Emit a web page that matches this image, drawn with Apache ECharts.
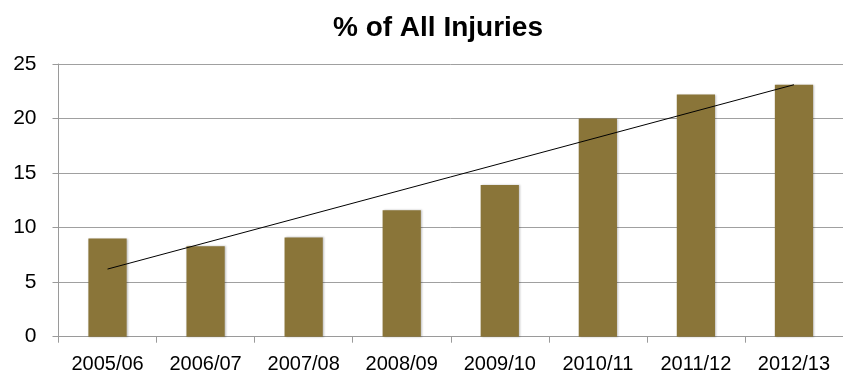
<!DOCTYPE html>
<html>
<head>
<meta charset="utf-8">
<script src="https://cdn.jsdelivr.net/npm/echarts@6/dist/echarts.min.js"></script>
<style>
  html, body { margin: 0; padding: 0; background: #fff; }
  #chart { width: 843px; height: 378px; }
</style>
</head>
<body>
<div id="chart"></div>
<script>
// Seasons on the category axis
const seasons = ['2005/06', '2006/07', '2007/08', '2008/09', '2009/10', '2010/11', '2011/12', '2012/13'];
// Share of all injuries, per season (%)
const injuryShare = [9.0, 8.3, 9.1, 11.6, 13.9, 20.0, 22.2, 23.1];
// Linear trend: value at first and last season
const trendStart = 6.2;
const trendEnd = 23.1;
// Value axis ticks
const yTicks = [0, 5, 10, 15, 20, 25];

const trendData = seasons.map((_, i) =>
  i === 0 ? trendStart : (i === seasons.length - 1 ? trendEnd : null));

const chart = echarts.init(document.getElementById('chart'), null, { renderer: 'canvas' });
chart.setOption({
  animation: false,
  backgroundColor: '#ffffff',
  title: {
    text: '% of All Injuries',
    left: 433,
    top: 9,
    textAlign: 'center',
    textStyle: {
      fontFamily: 'Liberation Sans, Arial, sans-serif',
      fontWeight: 'bold',
      fontSize: 28,
      color: '#000'
    }
  },
  grid: { left: 58.5, right: -6.5, top: 64, bottom: 41.3 },
  xAxis: {
    type: 'category',
    data: seasons,
    boundaryGap: true,
    axisLine: { show: true, lineStyle: { color: '#9a9a9a', width: 1 } },
    axisTick: { show: true, length: 6, alignWithLabel: false, lineStyle: { color: '#9a9a9a' } },
    axisLabel: {
      margin: 18,
      fontFamily: 'Liberation Sans, Arial, sans-serif',
      fontSize: 20,
      color: '#000',
      interval: 0
    },
    splitLine: { show: false }
  },
  yAxis: {
    type: 'value',
    min: yTicks[0],
    max: yTicks[yTicks.length - 1],
    interval: 5,
    axisLine: { show: true, lineStyle: { color: '#9a9a9a', width: 1 } },
    axisTick: { show: true, length: 6, lineStyle: { color: '#9a9a9a' } },
    axisLabel: {
      margin: 22,
      fontFamily: 'Liberation Sans, Arial, sans-serif',
      fontSize: 21,
      color: '#000'
    },
    splitLine: { show: true, lineStyle: { color: '#a0a0a0', width: 1 } }
  },
  series: [
    {
      name: '% of All Injuries',
      type: 'bar',
      data: injuryShare,
      barWidth: '39%',
      itemStyle: {
        color: '#8a7539',
        shadowColor: 'rgba(0,0,0,0.25)',
        shadowBlur: 2,
        shadowOffsetX: 1,
        shadowOffsetY: 0
      },
      z: 2
    },
    {
      name: 'Trend',
      type: 'line',
      data: trendData,
      connectNulls: true,
      symbol: 'none',
      lineStyle: { color: '#000', width: 1 },
      z: 3
    }
  ]
});
</script>
</body>
</html>
